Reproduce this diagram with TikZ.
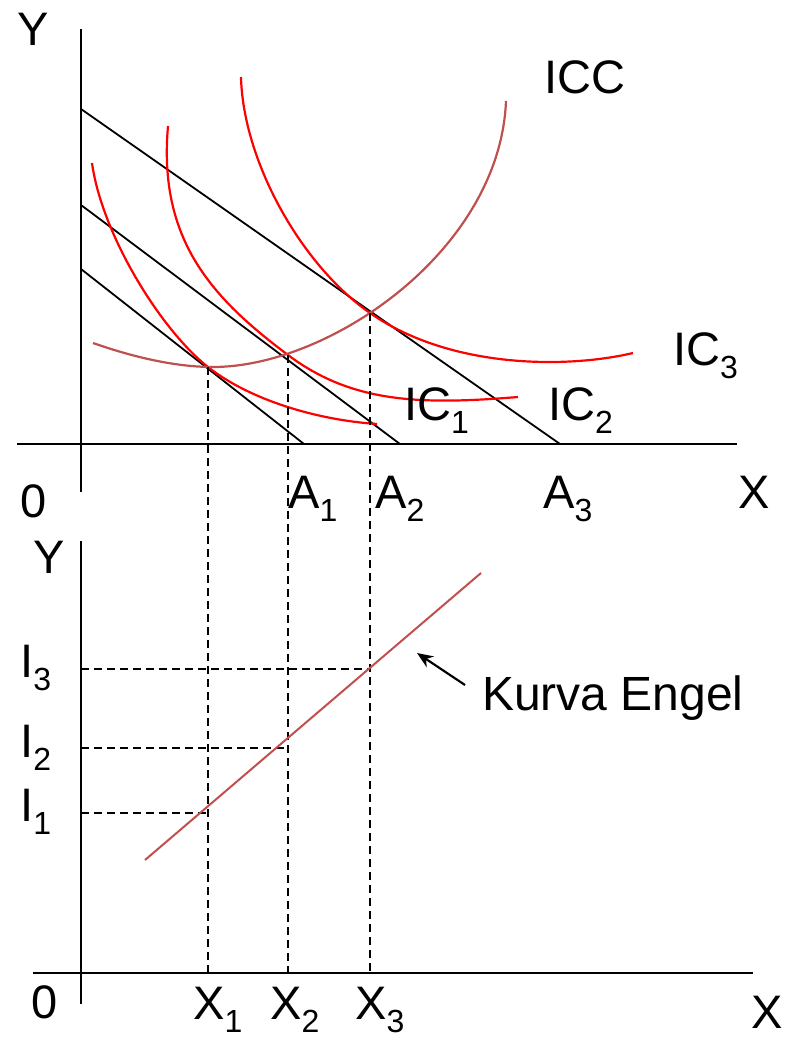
\documentclass[tikz,border=0pt]{standalone}
\usepackage{fontspec}
\setmainfont{Liberation Sans}
\usetikzlibrary{arrows.meta}

\definecolor{icred}{RGB}{255,0,0}
\definecolor{iccbrown}{RGB}{192,80,77}

\newcommand{\lowsub}[1]{\raisebox{-13pt}{\fontsize{32}{32}\selectfont #1}}

\tikzset{
    axis/.style={line width=2.4pt},
    budget/.style={line width=1.8pt},
    icline/.style={icred, line width=2.2pt},
    iccline/.style={iccbrown, line width=2.2pt},
    guide/.style={line width=2.2pt, dash pattern=on 8pt off 5pt},
    lbl/.style={anchor=base west, inner sep=0pt, font=\fontsize{47}{56}\selectfont}
}

\begin{document}
\begin{tikzpicture}[x=1pt, y=-1pt]

        \useasboundingbox (0, 0) rectangle (792, 1037);

        % top panel: axes
        \draw[axis] (81, 29) -- (81, 492);
        \draw[axis] (17, 444) -- (737, 444);

        % budget lines
        \draw[budget] (81, 109) -- (560, 444);
        \draw[budget] (81, 205) -- (400, 444);
        \draw[budget] (81, 269) -- (304, 444);

        % tangent points
        \coordinate (E1) at (208, 367);
        \coordinate (E2) at (288, 355);
        \coordinate (E3) at (370, 313);

        % indifference curves
        \draw[icline] (92, 163) .. controls (102, 235) and (161, 330) .. (E1)
            .. controls (250, 400) and (317, 420) .. (377, 424);
        \draw[icline] (168, 126) .. controls (158, 240) and (212, 298) .. (E2)
            .. controls (352, 403) and (420, 405) .. (518, 397);
        \draw[icline] (241, 77) .. controls (243, 160) and (300, 264) .. (E3)
            .. controls (452, 370) and (570, 368) .. (633, 353);

        % ICC
        \draw[iccline] (93, 343) .. controls (133, 357) and (175, 367) .. (213, 367)
            .. controls (330, 367) and (500, 250) .. (506, 101);

        % bottom panel: axes
        \draw[axis] (81, 541) -- (81, 1004);
        \draw[axis] (33, 973) -- (753, 973);

        \coordinate (X1) at (208, 973);
        \coordinate (X2) at (288, 973);
        \coordinate (X3) at (370, 973);

        % dashed guides
        \draw[guide] (E1) -- (X1);
        \draw[guide] (E2) -- (X2);
        \draw[guide] (E3) -- (X3);
        \draw[guide] (81, 669) -- (370, 669);
        \draw[guide] (81, 748) -- (288, 748);
        \draw[guide] (81, 813) -- (208, 813);

        % Engel curve
        \draw[iccline, line width=2pt] (145, 860) -- (481, 573);
        \coordinate (tip) at (417, 653);
        \coordinate (tail) at (465, 685);
        \draw[line width=2.2pt, -{Stealth[length=16pt, width=13pt]}] (tail) -- (tip);
        \node[lbl, font=\fontsize{48}{56}\selectfont] (engel) at (482, 710) {Kurva Engel};

        % labels top
        \node[lbl] (yTop) at (17, 45) {Y};
        \node[lbl] (oTop) at (20, 517) {0};
        \node[lbl] (xTop) at (738, 508) {X};
        \node[lbl] (a1) at (288, 508) {A\lowsub{1}};
        \node[lbl] (a2) at (375, 508) {A\lowsub{2}};
        \node[lbl] (a3) at (543, 508) {A\lowsub{3}};
        \node[lbl] (icc) at (544, 93) {ICC};
        \node[lbl] (ic1) at (404, 420) {IC\lowsub{1}};
        \node[lbl] (ic2) at (548, 420) {IC\lowsub{2}};
        \node[lbl] (ic3) at (673, 365) {IC\lowsub{3}};

        % labels bottom
        \node[lbl] (yBot) at (33, 573) {Y};
        \node[lbl] (i3) at (20, 677) {I\lowsub{3}};
        \node[lbl] (i2) at (20, 757) {I\lowsub{2}};
        \node[lbl] (i1) at (20, 821) {I\lowsub{1}};
        \node[lbl] (oBot) at (31, 1018) {0};
        \node[lbl] (x1) at (193, 1019) {X\lowsub{1}};
        \node[lbl] (x2) at (270, 1019) {X\lowsub{2}};
        \node[lbl] (x3) at (355, 1019) {X\lowsub{3}};
        \node[lbl] (xBot) at (751, 1028) {X};

    \end{tikzpicture}
\end{document}
